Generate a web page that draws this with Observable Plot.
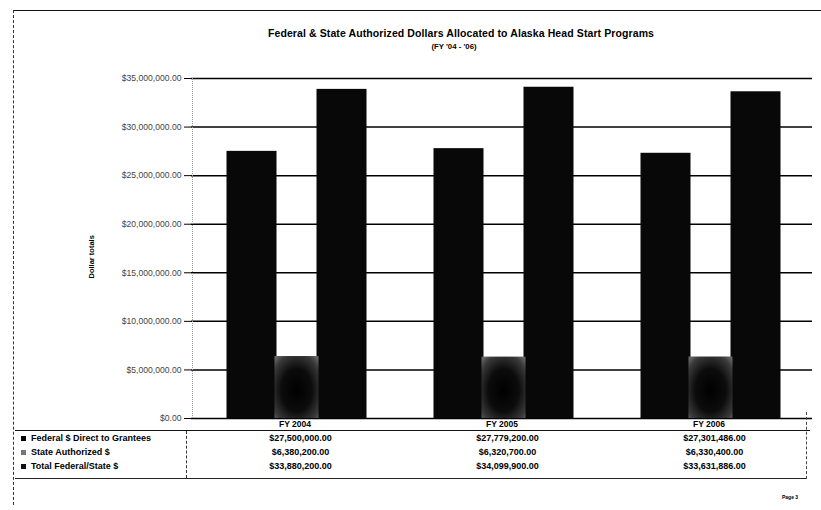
<!DOCTYPE html>
<html><head><meta charset="utf-8">
<script src="https://cdn.jsdelivr.net/npm/d3@7"></script>
<script src="https://cdn.jsdelivr.net/npm/@observablehq/plot@0.6"></script>
<style>
html,body{margin:0;padding:0;background:#fff;}
#wrap{position:relative;width:821px;height:510px;overflow:hidden;font-family:Arial,"Liberation Sans",sans-serif;color:#000;}
.abs{position:absolute;}
#chart{position:absolute;left:0;top:58px;}
</style></head><body><div id="wrap"><div id="chart"></div></div>
<script>
// ---- data ----
const years = ["FY 2004", "FY 2005", "FY 2006"];
const seriesNames = ["Federal $ Direct to Grantees", "State Authorized $", "Total Federal/State $"];
const federal = [27500000, 27779200, 27301486];
const stateAuth = [6380200, 6320700, 6330400];
const total = [33880200, 34099900, 33631886];
const yTicks = [0, 5000000, 10000000, 15000000, 20000000, 25000000, 30000000, 35000000];
const titleText = "Federal & State Authorized Dollars Allocated to Alaska Head Start Programs";
const subtitleText = "(FY '04 - '06)";
const yLabel = "Dollar totals";

const valuesBySeries = [federal, stateAuth, total];
const rows = [];
seriesNames.forEach((s, si) => years.forEach((y, yi) => rows.push({series: s, year: y, value: valuesBySeries[si][yi]})));
const fmt = d3.format("$,.2f");

const W = 821, ML = 190, MR = 9;
const plot = Plot.plot({
  width: W, height: 372,
  marginLeft: ML, marginRight: MR, marginTop: 20, marginBottom: 12,
  style: {fontFamily: "Arial, 'Liberation Sans', sans-serif", background: "transparent", color: "#000"},
  fx: {domain: years, padding: 0, axis: null, label: null},
  x: {domain: seriesNames, paddingInner: 0, paddingOuter: 0.78, align: 0.53, axis: null},
  y: {domain: [0, 35000000], axis: null},
  marks: [
    Plot.gridY(yTicks, {stroke: "#000", strokeOpacity: 1, strokeWidth: 1.5}),
    Plot.axisY(yTicks, {tickFormat: fmt, tickSize: 7, tickPadding: 3, fontSize: 8.6, fill: "#444", stroke: "#000", label: null}),
    Plot.axisFx({anchor: "bottom", tickSize: 0, tickPadding: 2, fontSize: 8.5, fontWeight: "bold", label: null}),
    Plot.barY(rows.filter(d => d.series !== seriesNames[1]), {fx: "year", x: "series", y: "value", fill: "#080808", insetLeft: -2.5, insetRight: -2.5}),
    Plot.barY(rows.filter(d => d.series === seriesNames[1]), {fx: "year", x: "series", y: "value", fill: "url(#stateFill)", insetLeft: 0.5, insetRight: 0.5}),
    Plot.text([yLabel], {fx: [years[0]], frameAnchor: "left", rotate: -90, dx: -100, dy: 30, fontWeight: "bold", fontSize: 7.5})
  ]
});
document.getElementById("chart").appendChild(plot);

// gradient for the state bars (speckled look)
const defs = d3.select(plot).insert("defs", ":first-child");
const rg = defs.append("radialGradient").attr("id", "stateFill").attr("cx", "50%").attr("cy", "55%").attr("r", "70%");
rg.append("stop").attr("offset", "0%").attr("stop-color", "#000");
rg.append("stop").attr("offset", "50%").attr("stop-color", "#0c0c0c");
rg.append("stop").attr("offset", "85%").attr("stop-color", "#3a3a3a");
rg.append("stop").attr("offset", "100%").attr("stop-color", "#666");

// ---- surrounding text and table ----
const wrap = document.getElementById("wrap");
function add(css, text) {
  const el = document.createElement("div");
  el.className = "abs";
  el.style.cssText = css;
  if (text != null) el.textContent = text;
  wrap.appendChild(el);
  return el;
}
// frame
add("left:14px;top:10px;width:807px;height:0;border-top:1.5px solid #111;");
add("left:13px;top:10px;width:0;height:495px;border-left:1.5px dashed #333;");
add("left:192px;top:78px;width:0;height:340px;border-left:1px dotted #999;");
// titles
add("left:161px;top:27px;width:600px;text-align:center;font-size:10.5px;font-weight:bold;white-space:nowrap;letter-spacing:0.1px;", titleText);
add("left:354px;top:42px;width:200px;text-align:center;font-size:7.8px;font-weight:bold;white-space:nowrap;", subtitleText);

// table
let fxs = null;
try { fxs = plot.scale("fx"); } catch (e) {}
let centerOf;
if (fxs && fxs.apply) centerOf = y => fxs.apply(y) + fxs.bandwidth / 2;
else { const b = d3.scaleBand(years, [ML, W - MR]); centerOf = y => b(y) + b.bandwidth() / 2; }

add("left:15px;top:430px;width:795px;height:0;border-top:1.5px solid #111;");
add("left:15px;top:478px;width:792px;height:0;border-top:1.2px solid #222;");
add("left:186px;top:431px;width:0;height:47px;border-left:1px dashed #333;");
add("left:806px;top:412px;width:0;height:67px;border-left:1px dashed #444;");
const keyColors = ["#000", "#777", "#111"];
const rowTop = [433, 447, 461];
seriesNames.forEach((s, si) => {
  add(`left:21px;top:${rowTop[si] + 3}px;width:5px;height:5px;background:${keyColors[si]};`);
  add(`left:31px;top:${rowTop[si]}px;font-size:9px;font-weight:bold;white-space:nowrap;line-height:11px;`, s);
  years.forEach((y, yi) => {
    const c = centerOf(y) + 6;
    add(`left:${c - 60}px;top:${rowTop[si]}px;width:120px;text-align:center;font-size:9px;font-weight:bold;white-space:nowrap;line-height:11px;`, fmt(valuesBySeries[si][yi]));
  });
});
add("left:782px;top:494px;font-size:5px;font-weight:bold;", "Page 3");
</script></body></html>
